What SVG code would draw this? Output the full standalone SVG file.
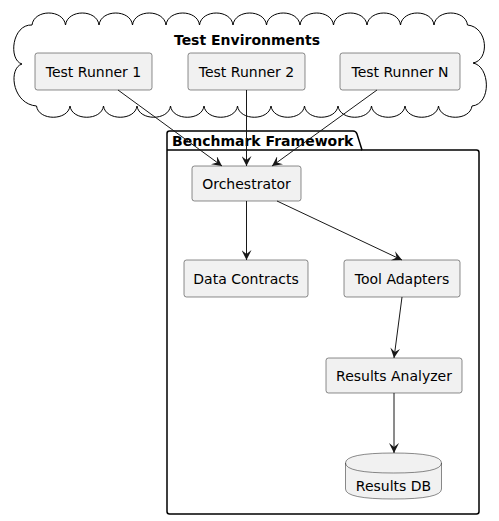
<svg xmlns="http://www.w3.org/2000/svg" width="499" height="521" viewBox="0 0 499 521">
<defs>
<style>
.node{fill:#F1F1F1;stroke:#181818;stroke-width:0.5}
.lbl{font-family:"DejaVu Sans",sans-serif;font-size:14px;fill:#000;text-anchor:middle}
.ttl{font-family:"DejaVu Sans",sans-serif;font-size:14px;font-weight:bold;fill:#000}
.edge{stroke:#181818;stroke-width:1;fill:none;marker-end:url(#arr)}
</style>
<marker id="arr" viewBox="0 0 10 10" refX="10" refY="5" markerWidth="10" markerHeight="10" markerUnits="userSpaceOnUse" orient="auto">
<path d="M0,0 L10,5 L0,10 L4,5 Z" fill="#181818"/>
</marker>
</defs>
<rect width="499" height="521" fill="#FFFFFF"/>
<g id="cloud-test-environments">
<path fill="#FFFFFF" stroke="#000" stroke-width="1" d="M32,25 c2,-16 31.5,-16 33.5,0 c2,-16 31.5,-16 33.5,0 c2,-16 31.5,-16 33.5,0 c2,-16 31.5,-16 33.5,0 c2,-16 31.5,-16 33.5,0 c2,-16 31.5,-16 33.5,0 c2,-16 31.5,-16 33.5,0 c2,-16 31.5,-16 33.5,0 c2,-16 31.5,-16 33.5,0 c2,-16 31.5,-16 33.5,0 c2,-16 31.5,-16 33.5,0 c2,-16 31.5,-16 33.5,0 c2,-16 31.5,-16 33.5,0 C488,27 490,60 473,63 C490,66 492,104 472,106 c-2,15 -31.5,15 -33.5,0 c-2,15 -31.5,15 -33.5,0 c-2,15 -31.5,15 -33.5,0 c-2,15 -31.5,15 -33.5,0 c-2,15 -31.5,15 -33.5,0 c-2,15 -31.5,15 -33.5,0 c-2,15 -31.5,15 -33.5,0 c-2,15 -31.5,15 -33.5,0 c-2,15 -31.5,15 -33.5,0 c-2,15 -31.5,15 -33.5,0 c-2,15 -31.5,15 -33.5,0 c-2,15 -31.5,15 -33.5,0 c-2,15 -31.5,15 -33.5,0 C12,104 8,68 22,64 C8,60 12,24 32,25 Z"/>
<text class="ttl" x="247" y="45" text-anchor="middle">Test Environments</text>
</g>
<g id="package-benchmark-framework">
<path fill="none" stroke="#000" stroke-width="1.5" d="M169.5,131 L353,131 Q356,131 357,134 L362,150 L476.5,150 Q479,150 479,152.5 L479,511.5 Q479,514 476.5,514 L169.5,514 Q167,514 167,511.5 L167,133.5 Q167,131 169.5,131 Z"/>
<path fill="none" stroke="#000" stroke-width="1.5" d="M167,150 L362,150"/>
<text class="ttl" x="172" y="146">Benchmark Framework</text>
</g>
<g id="test-runner-1">
<rect class="node" x="35" y="53" width="117" height="37" rx="2.5"/>
<text class="lbl" x="93.5" y="76.5">Test Runner 1</text>
</g>
<g id="test-runner-2">
<rect class="node" x="188" y="53" width="117" height="37" rx="2.5"/>
<text class="lbl" x="246.5" y="76.5">Test Runner 2</text>
</g>
<g id="test-runner-n">
<rect class="node" x="340" y="53" width="120" height="37" rx="2.5"/>
<text class="lbl" x="400" y="76.5">Test Runner N</text>
</g>
<g id="orchestrator">
<rect class="node" x="192" y="166" width="109" height="35" rx="2.5"/>
<text class="lbl" x="246.5" y="188.5">Orchestrator</text>
</g>
<g id="data-contracts">
<rect class="node" x="184" y="260" width="124" height="37" rx="2.5"/>
<text class="lbl" x="246" y="283.5">Data Contracts</text>
</g>
<g id="tool-adapters">
<rect class="node" x="344" y="260" width="116" height="37" rx="2.5"/>
<text class="lbl" x="402" y="283.5">Tool Adapters</text>
</g>
<g id="results-analyzer">
<rect class="node" x="326" y="358" width="136" height="35" rx="2.5"/>
<text class="lbl" x="394" y="380.5">Results Analyzer</text>
</g>
<g id="results-db">
<path class="node" d="M345.5,463 Q345.5,453 393.5,453 Q441.5,453 441.5,463 L441.5,489 Q441.5,499 393.5,499 Q345.5,499 345.5,489 Z"/>
<path fill="none" stroke="#181818" stroke-width="0.5" d="M345.5,463 Q345.5,473 393.5,473 Q441.5,473 441.5,463"/>
<text class="lbl" x="393.5" y="491">Results DB</text>
</g>
<g id="connectors">
<line class="edge" x1="118" y1="90" x2="222" y2="166"/>
<line class="edge" x1="246.5" y1="90" x2="246.5" y2="166"/>
<line class="edge" x1="377" y1="90" x2="272" y2="166"/>
<line class="edge" x1="246.5" y1="201" x2="246.5" y2="260"/>
<line class="edge" x1="277" y1="201" x2="402" y2="260"/>
<line class="edge" x1="402" y1="297" x2="394" y2="358"/>
<line class="edge" x1="394" y1="393" x2="394" y2="453"/>
</g>
</svg>
